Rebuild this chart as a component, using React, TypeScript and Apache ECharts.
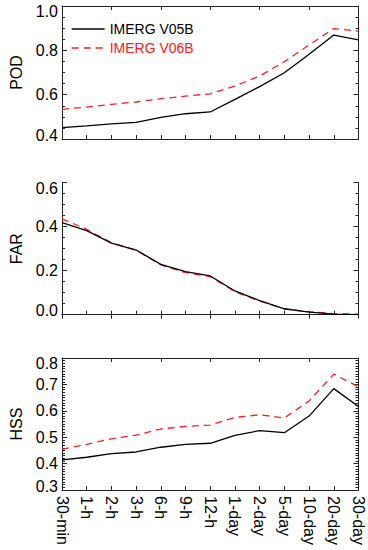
import React, { useEffect, useRef } from "react";
import * as echarts from "echarts";

const categories = ["30-min", "1-h", "2-h", "3-h", "6-h", "9-h", "12-h", "1-day", "2-day", "5-day", "10-day", "20-day", "30-day"];

const podV05 = [0.451, 0.459, 0.468, 0.475, 0.498, 0.514, 0.522, 0.579, 0.636, 0.699, 0.782, 0.869, 0.847];
const podV06 = [0.534, 0.544, 0.556, 0.567, 0.582, 0.593, 0.604, 0.639, 0.684, 0.749, 0.824, 0.898, 0.887];

const farV05 = [0.418, 0.382, 0.325, 0.294, 0.229, 0.196, 0.176, 0.108, 0.064, 0.027, 0.012, 0.003, 0.0];
const farV06 = [0.436, 0.388, 0.327, 0.294, 0.226, 0.191, 0.173, 0.105, 0.062, 0.026, 0.014, 0.005, 0.002];

const hssV05 = [0.414, 0.424, 0.438, 0.444, 0.462, 0.473, 0.477, 0.507, 0.525, 0.517, 0.58, 0.684, 0.616];
const hssV06 = [0.454, 0.473, 0.494, 0.508, 0.531, 0.541, 0.546, 0.575, 0.585, 0.573, 0.637, 0.739, 0.691];

const panelNames = ["POD", "FAR", "HSS"];
const yMins = [0.4, 0.0, 0.3];
const yMaxs = [1.0, 0.6, 0.8];
const yIntervals = [0.2, 0.2, 0.1];
const yMinorSplits = [4, 4, 10];

const seriesNames = ["IMERG V05B", "IMERG V06B"];

const FONT = "'Liberation Sans', Arial, Helvetica, sans-serif";
const AXIS_COLOR = "#222";
const RED = "#ff2020";

export default function App() {
  const ref = useRef<HTMLDivElement>(null);

  useEffect(() => {
    if (!ref.current) return;
    const chart = echarts.init(ref.current, null, { renderer: "svg" });

    const grids = [
      { left: 57, right: 9.5, top: 6, height: 133 },
      { left: 57, right: 9.5, top: 182.7, height: 132 },
      { left: 57, right: 9.5, top: 358, height: 132 },
    ];

    const xAxes: any[] = [];
    const yAxes: any[] = [];
    grids.forEach((_, i) => {
      const isLast = i === 2;
      xAxes.push({
        type: "category",
        gridIndex: i,
        data: categories,
        boundaryGap: false,
        position: "bottom",
        axisLine: { show: true, lineStyle: { color: AXIS_COLOR, width: 1 } },
        axisTick: { show: true, inside: true, length: 4, lineStyle: { color: AXIS_COLOR } },
        axisLabel: {
          show: isLast,
          rotate: -90,
          interval: 0,
          margin: 6,
          fontSize: 16,
          color: "#000",
          fontFamily: FONT,
        },
        splitLine: { show: false },
      });
      xAxes.push({
        type: "category",
        gridIndex: i,
        data: categories,
        boundaryGap: false,
        position: "top",
        axisLine: { show: true, lineStyle: { color: AXIS_COLOR, width: 1 } },
        axisTick: { show: true, inside: true, length: 4, lineStyle: { color: AXIS_COLOR } },
        axisLabel: { show: false },
        splitLine: { show: false },
      });
      const mn = yMins[i];
      const mx = yMaxs[i];
      const common = {
        type: "value",
        gridIndex: i,
        min: mn,
        max: mx,
        interval: yIntervals[i],
        axisLine: { show: true, lineStyle: { color: AXIS_COLOR, width: 1 } },
        axisTick: { show: true, inside: true, length: 5, lineStyle: { color: AXIS_COLOR } },
        minorTick: { show: true, splitNumber: yMinorSplits[i], length: 3, lineStyle: { color: AXIS_COLOR } },
        splitLine: { show: false },
        minorSplitLine: { show: false },
      };
      yAxes.push({
        ...common,
        position: "left",
        name: panelNames[i],
        nameLocation: "middle",
        nameGap: 38,
        nameTextStyle: { fontSize: 16, color: "#000", fontFamily: FONT },
        axisLabel: {
          show: true,
          margin: 4,
          fontSize: 16,
          color: "#000",
          fontFamily: FONT,
          formatter: (v: number) => {
            const s = v.toFixed(1);
            if (Math.abs(v - mx) < 1e-6) return `{t|${s}}`;
            if (Math.abs(v - mn) < 1e-6) return `{b|${s}}`;
            return `{n|${s}}`;
          },
          rich: {
            t: { fontSize: 16, color: "#000", fontFamily: FONT, padding: [11, 0, 0, 0] },
            b: { fontSize: 16, color: "#000", fontFamily: FONT, padding: [0, 0, 8, 0] },
            n: { fontSize: 16, color: "#000", fontFamily: FONT },
          },
        },
      });
      yAxes.push({
        ...common,
        position: "right",
        axisLabel: { show: false },
      });
    });

    const dataSets = [
      [podV05, podV06],
      [farV05, farV06],
      [hssV05, hssV06],
    ];

    const series: any[] = [];
    dataSets.forEach((pair, i) => {
      series.push({
        name: seriesNames[0],
        type: "line",
        xAxisIndex: i * 2,
        yAxisIndex: i * 2,
        data: pair[0],
        symbol: "none",
        showSymbol: false,
        lineStyle: { color: "#000", width: 1.3, type: "solid" },
        itemStyle: { color: "#000" },
        z: 3,
      });
      series.push({
        name: seriesNames[1],
        type: "line",
        xAxisIndex: i * 2,
        yAxisIndex: i * 2,
        data: pair[1],
        symbol: "none",
        showSymbol: false,
        lineStyle: { color: RED, width: 1.3, type: [7, 5] },
        itemStyle: { color: RED },
        z: 2,
      });
    });

    chart.setOption({
      animation: false,
      textStyle: { fontFamily: FONT },
      grid: grids,
      xAxis: xAxes,
      yAxis: yAxes,
      legend: {
        orient: "vertical",
        left: 71,
        top: 22,
        padding: 0,
        itemWidth: 33,
        itemHeight: 14,
        itemGap: 5,
        itemStyle: { opacity: 0 },
        data: [
          {
            name: seriesNames[0],
            itemStyle: { opacity: 0 },
            lineStyle: { color: "#000", width: 1.3, type: "solid" },
            textStyle: { color: "#000", fontSize: 14, fontFamily: FONT },
          },
          {
            name: seriesNames[1],
            itemStyle: { opacity: 0 },
            lineStyle: { color: RED, width: 1.3, type: [7, 5] },
            textStyle: { color: RED, fontSize: 14, fontFamily: FONT },
          },
        ],
      },
      series,
    });

    return () => chart.dispose();
  }, []);

  return (
    <div
      ref={ref}
      style={{ position: "absolute", left: 0, top: 0, width: 368, height: 550 }}
    />
  );
}
